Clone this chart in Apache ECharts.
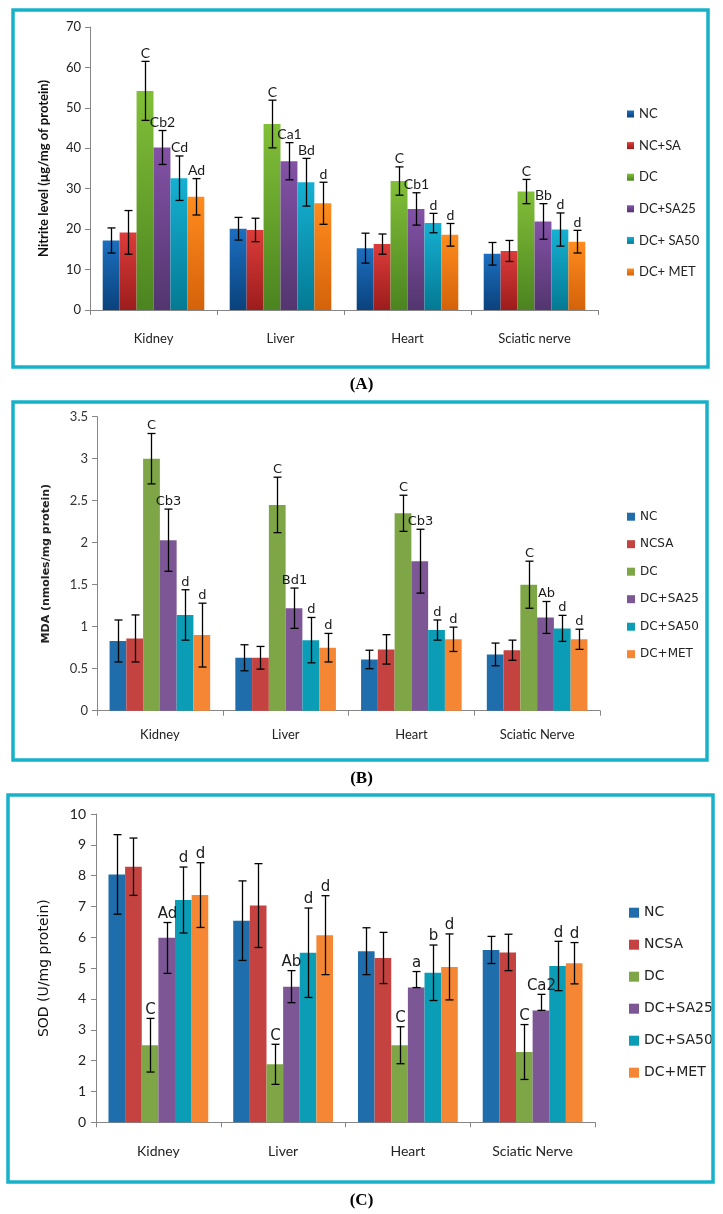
<!DOCTYPE html>
<html><head><meta charset="utf-8">
<script src="https://cdn.jsdelivr.net/npm/echarts@6/dist/echarts.min.js"></script>
<style>body{margin:0;background:#fff;} .c{position:absolute;left:0;width:723px;}</style>
</head><body>
<div id="ca" class="c" style="top:0;height:394px"></div>
<div id="cb" class="c" style="top:394px;height:394px"></div>
<div id="cc" class="c" style="top:788px;height:426px"></div>
<script>
// ---------- Panel A: Nitrite ----------
const catsA = ['Kidney', 'Liver', 'Heart', 'Sciatic nerve'];
const groupsA = ['NC', 'NC+SA', 'DC', 'DC+SA25', 'DC+ SA50', 'DC+ MET'];
const nitNC    = [17.2, 20.1, 15.3, 13.9];
const nitNCSA  = [19.2, 19.8, 16.3, 14.6];
const nitDC    = [54.2, 46.0, 31.9, 29.3];
const nitSA25  = [40.2, 36.8, 25.0, 21.9];
const nitSA50  = [32.6, 31.6, 21.5, 19.9];
const nitMET   = [28.0, 26.4, 18.6, 16.9];
const nitErrNC   = [3.1, 2.8, 3.7, 2.8];
const nitErrNCSA = [5.4, 2.9, 2.5, 2.6];
const nitErrDC   = [7.3, 5.9, 3.5, 3.0];
const nitErrSA25 = [4.2, 4.6, 4.0, 4.4];
const nitErrSA50 = [5.5, 5.9, 2.4, 4.1];
const nitErrMET  = [4.5, 5.2, 2.8, 2.8];
const nitLabDC   = ['C', 'C', 'C', 'C'];
const nitLabSA25 = ['Cb2', 'Ca1', 'Cb1', 'Bb'];
const nitLabSA50 = ['Cd', 'Bd', 'd', 'd'];
const nitLabMET  = ['Ad', 'd', 'd', 'd'];
const ticksA = [0, 70, 10];

// ---------- Panel B: MDA ----------
const catsB = ['Kidney', 'Liver', 'Heart', 'Sciatic Nerve'];
const groupsB = ['NC', 'NCSA', 'DC', 'DC+SA25', 'DC+SA50', 'DC+MET'];
const mdaNC   = [0.83, 0.63, 0.61, 0.67];
const mdaNCSA = [0.86, 0.63, 0.73, 0.72];
const mdaDC   = [3.00, 2.45, 2.35, 1.50];
const mdaSA25 = [2.03, 1.22, 1.78, 1.11];
const mdaSA50 = [1.14, 0.84, 0.96, 0.98];
const mdaMET  = [0.90, 0.75, 0.85, 0.85];
const mdaErrNC   = [0.25, 0.155, 0.11, 0.135];
const mdaErrNCSA = [0.28, 0.135, 0.175, 0.12];
const mdaErrDC   = [0.30, 0.33, 0.215, 0.28];
const mdaErrSA25 = [0.37, 0.24, 0.38, 0.19];
const mdaErrSA50 = [0.30, 0.27, 0.12, 0.155];
const mdaErrMET  = [0.38, 0.17, 0.145, 0.12];
const mdaLabDC   = ['C', 'C', 'C', 'C'];
const mdaLabSA25 = ['Cb3', 'Bd1', 'Cb3', 'Ab'];
const mdaLabSA50 = ['d', 'd', 'd', 'd'];
const mdaLabMET  = ['d', 'd', 'd', 'd'];
const ticksB = [0, 3.5, 0.5];

// ---------- Panel C: SOD ----------
const catsC = ['Kidney', 'Liver', 'Heart', 'Sciatic Nerve'];
const groupsC = ['NC', 'NCSA', 'DC', 'DC+SA25', 'DC+SA50', 'DC+MET'];
const sodNC   = [8.04, 6.54, 5.55, 5.59];
const sodNCSA = [8.29, 7.03, 5.33, 5.51];
const sodDC   = [2.50, 1.88, 2.50, 2.28];
const sodSA25 = [5.99, 4.40, 4.37, 3.63];
const sodSA50 = [7.21, 5.50, 4.85, 5.07];
const sodMET  = [7.37, 6.07, 5.04, 5.16];
const sodErrNC   = [1.29, 1.29, 0.76, 0.44];
const sodErrNCSA = [0.93, 1.36, 0.83, 0.59];
const sodErrDC   = [0.87, 0.65, 0.60, 0.89];
const sodErrSA25Up   = [0.49, 0.52, 0.52, 0.52];
const sodErrSA25Down = [1.16, 0.52, 0.00, 0.00];
const sodErrSA50 = [1.07, 1.45, 0.90, 0.80];
const sodErrMET  = [1.05, 1.28, 1.07, 0.67];
const sodLabDC   = ['C', 'C', 'C', 'C'];
const sodLabSA25 = ['Ad', 'Ab', 'a', 'Ca2'];
const sodLabSA50 = ['d', 'd', 'b', 'd'];
const sodLabMET  = ['d', 'd', 'd', 'd'];
const ticksC = [0, 10, 1];

const none = ['', '', '', ''];
const GAP = 0.2;
const FRAME = '#17b2ca';

function grad(top, bot) {
  return new echarts.graphic.LinearGradient(0, 0, 0, 1, [
    {offset: 0, color: top}, {offset: 1, color: bot}]);
}
const colorsA = [grad('#1c6fc0', '#0a427c'), grad('#dc3c3a', '#9c1d1c'), grad('#82bf38', '#4b8420'),
                 grad('#8352a6', '#53356f'), grad('#16b0d2', '#047a94'), grad('#ff8c1e', '#d4620a')];
const colorsBC = ['#1f6eab', '#c4423f', '#7ea646', '#7d5795', '#0a9db5', '#f58634'];

function errRender(gi, up, down, labels, labFont) {
  return function (params, api) {
    const i = params.dataIndex;
    const ci = api.value(0), v = api.value(1);
    const c = api.coord([ci, v]);
    const band = api.size([1, 0])[0];
    const bw = band * (1 - GAP) / 6;
    const x = Math.round(c[0] + (gi - 2.5) * bw) + 0.5;
    const yT = api.coord([ci, v + up[i]])[1];
    const yB = api.coord([ci, v - down[i]])[1];
    const st = {stroke: '#000', lineWidth: 1.3};
    const children = [
      {type: 'line', shape: {x1: x, y1: yT, x2: x, y2: yB}, style: st},
      {type: 'line', shape: {x1: x - 4, y1: yT, x2: x + 4, y2: yT}, style: st},
      {type: 'line', shape: {x1: x - 4, y1: yB, x2: x + 4, y2: yB}, style: st}
    ];
    if (labels[i]) {
      children.push({type: 'text', style: {text: labels[i], x: x, y: yT - 1,
        align: 'center', verticalAlign: 'bottom', font: labFont, fill: '#1a1a1a'}});
    }
    return {type: 'group', children: children};
  };
}

function build(p) {
  const series = [];
  p.groups.forEach((g, gi) => {
    series.push({name: g, type: 'bar', data: p.values[gi], barGap: '0%', barCategoryGap: (GAP * 100) + '%',
      itemStyle: {color: p.colors[gi]}, emphasis: {disabled: true}, animation: false});
  });
  p.groups.forEach((g, gi) => {
    series.push({type: 'custom', name: 'err' + gi, z: 5, animation: false,
      data: p.values[gi].map((v, k) => [k, v]), encode: {x: 0, y: 1},
      renderItem: errRender(gi, p.up[gi], p.down[gi], p.labels[gi], p.labFont)});
  });
  return {
    animation: false,
    title: {text: '{p|(}{b|' + p.letter + '}{p|)}', left: 'center', top: p.capTop, padding: 0,
      textStyle: {rich: {p: {fontFamily: 'Liberation Serif', fontSize: 17, lineHeight: 18, color: '#000'},
                         b: {fontFamily: 'Liberation Serif', fontSize: 17, lineHeight: 18, fontWeight: 'bold', color: '#000'}}}},
    graphic: [{type: 'rect', shape: p.frame, style: {fill: 'none', stroke: FRAME, lineWidth: 3.5}, z: 100}],
    grid: p.grid,
    legend: Object.assign({orient: 'vertical', icon: 'rect', data: p.groups, selectedMode: false}, p.legend),
    xAxis: {type: 'category', data: p.cats,
      axisLine: {lineStyle: {color: '#868686', width: 1}},
      axisTick: {show: true, length: 5, lineStyle: {color: '#868686'}},
      axisLabel: p.xLabel},
    yAxis: {type: 'value', min: p.ticks[0], max: p.ticks[1], interval: p.ticks[2],
      name: p.yName, nameLocation: 'middle', nameGap: p.nameGap, nameTextStyle: p.nameStyle,
      splitLine: {show: false},
      axisLine: {show: true, lineStyle: {color: '#868686', width: 1}},
      axisTick: {show: true, length: 5, lineStyle: {color: '#868686'}},
      axisLabel: p.yLabel},
    series: series
  };
}

const optA = build({
  letter: 'A', capTop: 376, cats: catsA, groups: groupsA, colors: colorsA,
  values: [nitNC, nitNCSA, nitDC, nitSA25, nitSA50, nitMET],
  up: [nitErrNC, nitErrNCSA, nitErrDC, nitErrSA25, nitErrSA50, nitErrMET],
  down: [nitErrNC, nitErrNCSA, nitErrDC, nitErrSA25, nitErrSA50, nitErrMET],
  labels: [none, none, nitLabDC, nitLabSA25, nitLabSA50, nitLabMET],
  labFont: '14px Lato', ticks: ticksA,
  frame: {x: 13, y: 10, width: 695, height: 357},
  grid: {left: 90, right: 125, top: 27, bottom: 84},
  legend: {left: 622, top: 102, itemWidth: 7, itemHeight: 7, itemGap: 17.6,
    textStyle: {fontFamily: 'Lato', fontSize: 13, color: '#222', lineHeight: 14}},
  xLabel: {fontFamily: 'Lato', fontSize: 13, color: '#222', margin: 22},
  yLabel: {fontFamily: 'Lato', fontSize: 13, color: '#222', margin: 9},
  yName: 'Nitrite level (µg/mg of protein)', nameGap: 40,
  nameStyle: {fontFamily: 'Lato', fontSize: 13, fontWeight: 'bold', color: '#111'}
});

const optB = build({
  letter: 'B', capTop: 376, cats: catsB, groups: groupsB, colors: colorsBC,
  values: [mdaNC, mdaNCSA, mdaDC, mdaSA25, mdaSA50, mdaMET],
  up: [mdaErrNC, mdaErrNCSA, mdaErrDC, mdaErrSA25, mdaErrSA50, mdaErrMET],
  down: [mdaErrNC, mdaErrNCSA, mdaErrDC, mdaErrSA25, mdaErrSA50, mdaErrMET],
  labels: [none, none, mdaLabDC, mdaLabSA25, mdaLabSA50, mdaLabMET],
  labFont: '13px "DejaVu Sans"', ticks: ticksB,
  frame: {x: 13, y: 8, width: 694, height: 358},
  grid: {left: 97, right: 123, top: 22.7, bottom: 77.3},
  legend: {left: 622, top: 110.7, itemWidth: 8, itemHeight: 8, itemGap: 13.5,
    textStyle: {fontFamily: 'DejaVu Sans', fontSize: 12, color: '#222', lineHeight: 14}},
  xLabel: {fontFamily: 'Lato', fontSize: 13, color: '#222', margin: 18},
  yLabel: {fontFamily: 'Lato', fontSize: 13, color: '#333', margin: 9},
  yName: 'MDA (nmoles/mg protein)', nameGap: 45,
  nameStyle: {fontFamily: 'DejaVu Sans', fontSize: 11, fontWeight: 'bold', color: '#222'}
});

const optC = build({
  letter: 'C', capTop: 404, cats: catsC, groups: groupsC, colors: colorsBC,
  values: [sodNC, sodNCSA, sodDC, sodSA25, sodSA50, sodMET],
  up: [sodErrNC, sodErrNCSA, sodErrDC, sodErrSA25Up, sodErrSA50, sodErrMET],
  down: [sodErrNC, sodErrNCSA, sodErrDC, sodErrSA25Down, sodErrSA50, sodErrMET],
  labels: [none, none, sodLabDC, sodLabSA25, sodLabSA50, sodLabMET],
  labFont: '15px "DejaVu Sans"', ticks: ticksC,
  frame: {x: 8, y: 7, width: 705, height: 387},
  grid: {left: 96, right: 128, top: 26, bottom: 91.7},
  legend: {left: 624, top: 111.7, itemWidth: 10, itemHeight: 10, itemGap: 16,
    textStyle: {fontFamily: 'DejaVu Sans', fontSize: 14, color: '#222', lineHeight: 16}},
  xLabel: {fontFamily: 'Lato', fontSize: 14, color: '#222', margin: 22},
  yLabel: {fontFamily: 'Lato', fontSize: 14, color: '#222', margin: 10},
  yName: 'SOD (U/mg protein)', nameGap: 45,
  nameStyle: {fontFamily: 'DejaVu Sans', fontSize: 14, color: '#111'}
});

echarts.init(document.getElementById('ca'), null, {renderer: 'canvas'}).setOption(optA);
echarts.init(document.getElementById('cb'), null, {renderer: 'canvas'}).setOption(optB);
echarts.init(document.getElementById('cc'), null, {renderer: 'canvas'}).setOption(optC);
</script></body></html>
